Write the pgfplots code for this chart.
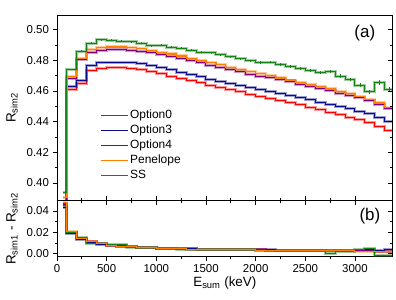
\documentclass[border=0pt]{standalone}
\usepackage{fontspec}
\setmainfont{Liberation Sans}
\usepackage{pgfplots}
\usepackage{pgfplotstable}
\pgfplotsset{compat=1.18}

\definecolor{cRed}{RGB}{255,0,0}
\definecolor{cBlue}{RGB}{10,10,140}
\definecolor{cPurple}{RGB}{128,0,128}
\definecolor{cOrange}{RGB}{255,128,0}
\definecolor{cGreen}{RGB}{20,130,20}

\pgfplotstableread{
x     xc    red     blue    purple  orange  green   gerr
60    80    0.3820  0.3840  0.3850  0.3905  0.3940  0.0015
100   150   0.4610  0.4631  0.4683  0.4692  0.4740  0.0005
200   250   0.4649  0.4670  0.4808  0.4813  0.4860  0.0005
300   350   0.4735  0.4766  0.4853  0.4870  0.4911  0.0005
400   450   0.4748  0.4783  0.4866  0.4883  0.4935  0.0005
500   550   0.4752  0.4787  0.4870  0.4887  0.4932  0.0005
600   650   0.4751  0.4787  0.4870  0.4887  0.4925  0.0005
700   750   0.4746  0.4783  0.4866  0.4883  0.4922  0.0005
800   850   0.4738  0.4776  0.4858  0.4875  0.4912  0.0005
900   950   0.4725  0.4764  0.4848  0.4865  0.4895  0.0006
1000  1050  0.4711  0.4751  0.4836  0.4853  0.4897  0.0006
1100  1150  0.4697  0.4737  0.4824  0.4841  0.4885  0.0006
1200  1250  0.4682  0.4721  0.4811  0.4828  0.4878  0.0006
1300  1350  0.4667  0.4706  0.4797  0.4814  0.4865  0.0006
1400  1450  0.4652  0.4691  0.4783  0.4800  0.4852  0.0006
1500  1550  0.4637  0.4676  0.4768  0.4785  0.4848  0.0006
1600  1650  0.4622  0.4662  0.4753  0.4770  0.4835  0.0007
1700  1750  0.4607  0.4648  0.4738  0.4755  0.4822  0.0007
1800  1850  0.4594  0.4635  0.4724  0.4741  0.4810  0.0007
1900  1950  0.4580  0.4622  0.4710  0.4727  0.4798  0.0007
2000  2050  0.4566  0.4608  0.4696  0.4713  0.4786  0.0008
2100  2150  0.4552  0.4595  0.4687  0.4699  0.4788  0.0008
2200  2250  0.4538  0.4582  0.4673  0.4685  0.4772  0.0008
2300  2350  0.4524  0.4569  0.4659  0.4671  0.4757  0.0009
2400  2450  0.4509  0.4556  0.4645  0.4657  0.4745  0.0009
2500  2550  0.4494  0.4542  0.4631  0.4643  0.4735  0.0010
2600  2650  0.4478  0.4528  0.4616  0.4628  0.4720  0.0010
2700  2750  0.4462  0.4514  0.4601  0.4613  0.4725  0.0011
2800  2850  0.4446  0.4499  0.4586  0.4598  0.4697  0.0011
2900  2950  0.4429  0.4484  0.4570  0.4582  0.4675  0.0012
3000  3050  0.4411  0.4468  0.4557  0.4565  0.4638  0.0013
3100  3150  0.4392  0.4450  0.4537  0.4545  0.4595  0.0014
3200  3250  0.4370  0.4428  0.4514  0.4522  0.4655  0.0016
3300  3350  0.4345  0.4402  0.4484  0.4492  0.4612  0.0017
3400  3450  0.4345  0.4402  0.4484  0.4492  0.4612  0.0017
}\toptab

\pgfplotstableread{
x     red     blue    purple  orange  green
60    0.0470  0.0430  0.0460  0.0480  0.0450
100   0.0200  0.0190  0.0200  0.0205  0.0202
200   0.0138  0.0136  0.0140  0.0142  0.0148
300   0.0110  0.0108  0.0112  0.0114  0.0100
400   0.0092  0.0090  0.0093  0.0095  0.0093
500   0.0080  0.0079  0.0081  0.0080  0.0082
600   0.0072  0.0071  0.0073  0.0072  0.0086
700   0.0066  0.0065  0.0067  0.0064  0.0060
800   0.0060  0.0060  0.0061  0.0058  0.0058
900   0.0056  0.0057  0.0056  0.0055  0.0056
1000  0.0052  0.0053  0.0051  0.0050  0.0046
1100  0.0050  0.0050  0.0049  0.0047  0.0045
1200  0.0047  0.0047  0.0046  0.0045  0.0040
1300  0.0045  0.0045  0.0044  0.0043  0.0038
1400  0.0043  0.0043  0.0042  0.0041  0.0040
1500  0.0041  0.0042  0.0040  0.0039  0.0040
1600  0.0040  0.0041  0.0039  0.0038  0.0042
1700  0.0039  0.0040  0.0038  0.0037  0.0036
1800  0.0038  0.0038  0.0037  0.0036  0.0035
1900  0.0037  0.0037  0.0036  0.0035  0.0040
2000  0.0035  0.0036  0.0035  0.0034  0.0034
2100  0.0034  0.0035  0.0034  0.0033  0.0033
2200  0.0033  0.0034  0.0033  0.0032  0.0031
2300  0.0033  0.0033  0.0032  0.0031  0.0026
2400  0.0032  0.0032  0.0031  0.0030  0.0027
2500  0.0031  0.0031  0.0030  0.0029  0.0030
2600  0.0030  0.0031  0.0030  0.0028  0.0027
2700  0.0029  0.0030  0.0029  0.0028  0.0000
2800  0.0029  0.0030  0.0028  0.0027  0.0025
2900  0.0028  0.0029  0.0028  0.0026  0.0022
3000  0.0027  0.0034  0.0027  0.0025  0.0040
3100  0.0026  0.0036  0.0026  0.0024  0.0052
3200  0.0025  0.0030  0.0025  0.0021  -0.0015
3300  0.0024  0.0040  0.0023  0.0018  -0.0015
3400  0.0024  0.0040  0.0023  0.0018  -0.0015
}\bottab

\pgfplotsset{
  common/.style={
    scale only axis, width=335.7bp,
    xmin=0, xmax=3380,
    xtick={0,500,1000,1500,2000,2500,3000}, minor x tick num=1,
    minor y tick num=1,
    axis line style={line width=0.8bp},
    tick style={black, line width=0.7bp},
    major tick length=4.5bp, minor tick length=2.5bp,
    scaled x ticks=false, scaled y ticks=false,
    /pgf/number format/assume math mode=true,
    font=\fontsize{11.5}{13}\selectfont,
    yticklabel style={/pgf/number format/.cd, fixed, fixed zerofill, precision=2},
    xticklabel style={/pgf/number format/.cd, fixed, 1000 sep={}},
  },
  band/.style={const plot mark left, line width=3bp, opacity=0.4, forget plot},
  thin/.style={const plot mark left, line width=1bp},
}

\begin{document}
\begin{tikzpicture}
\path[use as bounding box] (0,0) rectangle (396bp,300bp);

% ---------- top panel ----------
\begin{axis}[common,
  at={(57bp,99.3bp)}, anchor=south west, height=185.7bp,
  ymin=0.3885, ymax=0.5095,
  ytick={0.40,0.42,0.44,0.46,0.48,0.50},
  xticklabels={}, xtick pos=bottom, ytick pos=left, tick align=outside,
  ylabel={R\textsubscript{sim2}},
  ylabel style={at={(axis description cs:-0.134,0.5)}, anchor=center, font=\fontsize{13.5}{15}\selectfont},
  legend cell align=left,
  legend style={draw=none, fill=none, at={(axis description cs:0.128,0.5)}, anchor=north west,
    font=\fontsize{12}{13}\selectfont, row sep=0pt, inner sep=0pt,
    nodes={text height=9bp, text depth=3bp, inner sep=1.5bp}},
  legend image code/.code={\draw[#1, line width=1.5bp] (0bp,0bp) -- (27bp,0bp);},
]
\addplot[band, cRed] table[x=x, y=red] {\toptab};
\addplot[band, cBlue] table[x=x, y=blue] {\toptab};
\addplot[band, cPurple] table[x=x, y=purple] {\toptab};
\addplot[band, cOrange] table[x=x, y=orange] {\toptab};
\addplot[band, cGreen] table[x=x, y=green] {\toptab};
\addplot[thin, cRed] table[x=x, y=red] {\toptab};
\addlegendentry{Option0}
\addplot[thin, cBlue] table[x=x, y=blue] {\toptab};
\addlegendentry{Option3}
\addplot[thin, cPurple] table[x=x, y=purple] {\toptab};
\addlegendentry{Option4}
\addplot[thin, cOrange, line width=1.2bp] table[x=x, y=orange] {\toptab};
\addlegendentry{Penelope}
\addplot[thin, cGreen] table[x=x, y=green] {\toptab};
\addlegendentry{SS}
\addplot[cGreen, draw opacity=0, mark=none, forget plot,
  error bars/.cd, y dir=both, y explicit, error mark=none,
  error bar style={draw=cGreen, draw opacity=1, line width=0.8bp}]
  table[x=xc, y=green, y error=gerr] {\toptab};
\node[font=\fontsize{17}{19}\selectfont] at (axis description cs:0.917,0.903) {(a)};
\end{axis}
\begin{axis}[common,
  at={(57bp,99.3bp)}, anchor=south west, height=185.7bp,
  ymin=0.3885, ymax=0.5095,
  ytick={0.40,0.42,0.44,0.46,0.48,0.50},
  axis x line=none, axis y line*=right, yticklabels={}, tick align=inside,
]
\end{axis}

% ---------- bottom panel ----------
\begin{axis}[common,
  at={(57bp,43.3bp)}, anchor=south west, height=56bp,
  ymin=-0.0028, ymax=0.0497,
  ytick={0,0.02,0.04},
  xtick pos=both, ytick pos=left, tick align=outside,
  xlabel={E\textsubscript{sum} (keV)},
  xlabel style={at={(axis description cs:0.5,-0.53)}, anchor=base, font=\fontsize{13.5}{15}\selectfont},
  ylabel={R\textsubscript{sim1} - R\textsubscript{sim2}},
  ylabel style={at={(axis description cs:-0.134,0.5)}, anchor=center, font=\fontsize{13.5}{15}\selectfont},
]
\addplot[band, cRed] table[x=x, y=red] {\bottab};
\addplot[band, cBlue] table[x=x, y=blue] {\bottab};
\addplot[band, cPurple] table[x=x, y=purple] {\bottab};
\addplot[band, cOrange] table[x=x, y=orange] {\bottab};
\addplot[band, cGreen] table[x=x, y=green] {\bottab};
\addplot[thin, cRed] table[x=x, y=red] {\bottab};
\addplot[thin, cBlue] table[x=x, y=blue] {\bottab};
\addplot[thin, cPurple] table[x=x, y=purple] {\bottab};
\addplot[thin, cGreen] table[x=x, y=green] {\bottab};
\addplot[thin, cOrange] table[x=x, y=orange] {\bottab};
\node[font=\fontsize{17}{19}\selectfont] at (axis description cs:0.932,0.732) {(b)};
\end{axis}
\begin{axis}[common,
  at={(57bp,43.3bp)}, anchor=south west, height=56bp,
  ymin=-0.0028, ymax=0.0497,
  ytick={0,0.02,0.04},
  axis x line=none, axis y line*=right, yticklabels={}, tick align=inside,
]
\end{axis}
\end{tikzpicture}
\end{document}
